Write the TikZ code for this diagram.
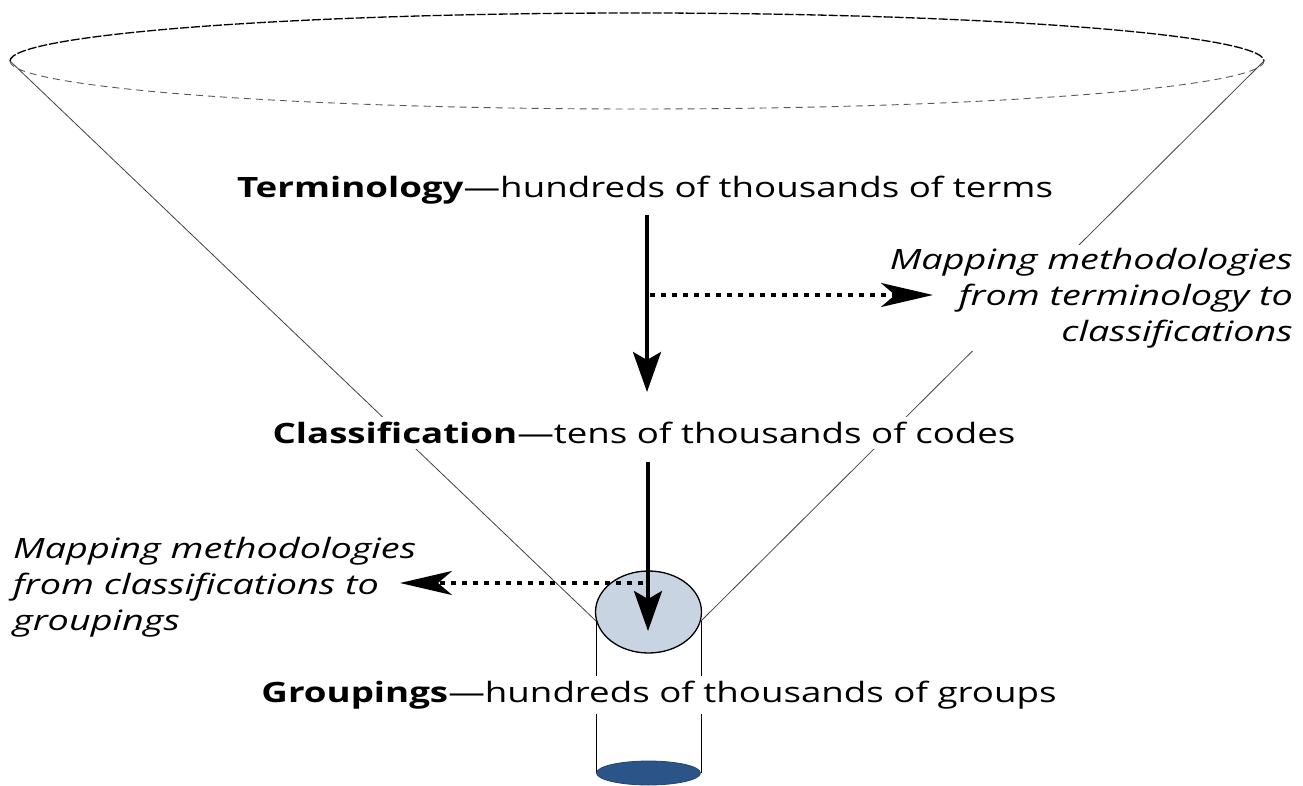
\documentclass[tikz,border=0pt]{standalone}
\usepackage{fontspec}
\setmainfont{Open Sans}[FakeStretch=1.31]
\newfontfamily\mapfont{Open Sans}[FakeStretch=1.35]
\usetikzlibrary{arrows.meta}
\definecolor{capfill}{HTML}{C8D4E2}
\definecolor{basefill}{HTML}{2B5589}
\begin{document}
\begin{tikzpicture}[x=1pt,y=-1pt,
  lbl/.style={font=\fontsize{28}{34}\selectfont, fill=white, inner sep=5pt},
  maplbl/.style={font=\mapfont\fontsize{28}{36}\selectfont\itshape, fill=white, inner sep=3pt},
  conel/.style={line width=0.8pt, black!75},
  rimtop/.style={line width=1.3pt, dash pattern=on 9pt off 2pt},
  rimbot/.style={line width=0.9pt, black!65, dash pattern=on 7pt off 5pt},
  mainarrow/.style={line width=3.5pt, -{Stealth[length=40pt,width=28pt,inset=8pt]}},
  dotarrow/.style={line width=3.5pt, dash pattern=on 5pt off 6pt, -{Stealth[length=52pt,width=24pt,inset=14pt]}}]
\useasboundingbox (0,0) rectangle (1303,786);
% rim of funnel
\coordinate (tipL) at (10,61);
\coordinate (tipR) at (1264,61);
\draw[rimtop] (tipL) arc[start angle=180,end angle=360,x radius=627,y radius=48];
\draw[rimbot] (tipL) arc[start angle=180,end angle=0,x radius=627,y radius=48];
% cone sides
\coordinate (capL) at (596,621);
\coordinate (capR) at (701,621);
\draw[conel] (tipL) -- (capL);
\draw[conel] (tipR) -- (capR);
% cylinder
\coordinate (baseL) at (596,773);
\coordinate (baseR) at (701,773);
\draw[line width=1pt] (capL) -- (baseL);
\draw[line width=1pt] (capR) -- (baseR);
\coordinate (base) at (648.5,773);
\filldraw[fill=basefill, draw=basefill!80!black, line width=0.8pt] (base) ellipse[x radius=52, y radius=12];
\coordinate (cap) at (648.5,612);
\filldraw[fill=capfill, line width=1.3pt] (cap) ellipse[x radius=53, y radius=41];
% labels
\node[lbl] (term) at (645,190) {\textbf{Terminology}—hundreds of thousands of terms};
\node[lbl] (class) at (644,433) {\textbf{Classification}—tens of thousands of codes};
\node[lbl] (group) at (659,695) {\textbf{Groupings}—hundreds of thousands of groups};
\node[maplbl, align=right, anchor=east] (mapR) at (1296,298) {Mapping methodologies\\from terminology to\\classifications};
\node[maplbl, align=left, anchor=west] (mapL) at (10,587) {Mapping methodologies\\from classifications to\\groupings};
% arrows
\coordinate (a1s) at (647,215);
\coordinate (a1e) at (647,392);
\coordinate (a2s) at (648,462);
\coordinate (a2e) at (648,631);
\coordinate (d1s) at (650,295);
\coordinate (d1e) at (933,295);
\coordinate (d2s) at (643,583);
\coordinate (d2e) at (400,583);
\draw[mainarrow] (a1s) -- (a1e);
\draw[mainarrow] (a2s) -- (a2e);
\draw[dotarrow] (d1s) -- (d1e);
\draw[dotarrow] (d2s) -- (d2e);
\end{tikzpicture}
\end{document}
